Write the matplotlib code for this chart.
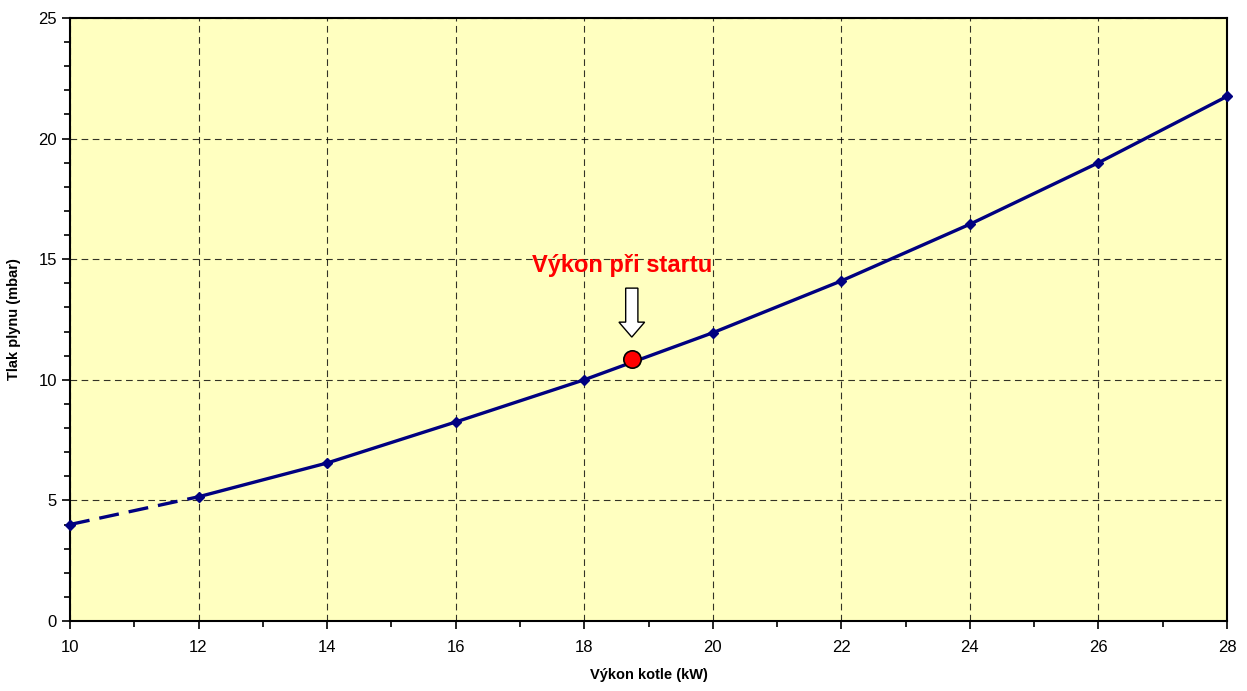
import matplotlib
matplotlib.use("Agg")
import matplotlib.pyplot as plt
from matplotlib.patches import FancyArrow
from matplotlib.ticker import MultipleLocator

plt.rcParams['font.family'] = ['Liberation Sans', 'DejaVu Sans']

power_kw = [10, 12, 14, 16, 18, 20, 22, 24, 26, 28]
pressure_mbar = [4.0, 5.15, 6.55, 8.25, 10.0, 11.95, 14.1, 16.45, 19.0, 21.75]
start_power = 18.74
start_pressure = 10.86
annotation_text = "Výkon při startu"

fig = plt.figure(figsize=(12.47, 6.91), dpi=100)
ax = fig.add_axes([0.0561, 0.1013, 0.9279, 0.8727])
ax.set_facecolor('#FFFFC0')

navy = '#000080'
# dashed extrapolated part
ax.plot(power_kw[:2], pressure_mbar[:2], color=navy, lw=2.4, ls=(0, (6, 3)), zorder=3)
ax.plot(power_kw[1:], pressure_mbar[1:], color=navy, lw=2.4, zorder=3)
ax.plot(power_kw, pressure_mbar, ls='none', marker='D', ms=5, color=navy, zorder=4, clip_on=False)

ax.plot([start_power], [start_pressure], marker='o', ms=12.5, mfc='#FF0000', mec='black', mew=1.2, zorder=5)

arr = FancyArrow(start_power, 13.8, 0, -2.03, width=0.19, head_width=0.4,
                 head_length=0.62, length_includes_head=True, fc='white', ec='black', lw=1.0, zorder=5)
ax.add_patch(arr)
ax.text(18.59, 14.72, annotation_text, color='#FF0000', fontsize=17, fontweight='bold',
        ha='center', va='center', zorder=6)

ax.set_xlim(10, 28)
ax.set_ylim(0, 25)
ax.xaxis.set_major_locator(MultipleLocator(2))
ax.xaxis.set_minor_locator(MultipleLocator(1))
ax.yaxis.set_major_locator(MultipleLocator(5))
ax.yaxis.set_minor_locator(MultipleLocator(1))
ax.grid(True, which='major', color='black', ls=(0, (6, 4)), lw=0.8, alpha=0.8)
ax.tick_params(which='both', direction='out', labelsize=12, width=1.2)
ax.tick_params(which='major', length=6)
ax.tick_params(which='minor', length=4)
ax.tick_params(axis='x', pad=8)
for s in ax.spines.values():
    s.set_linewidth(1.5)
    s.set_color('black')

ax.set_xlabel('Výkon kotle (kW)', fontsize=10.5, fontweight='bold', labelpad=9)
ax.set_ylabel('Tlak plynu (mbar)', fontsize=10.5, fontweight='bold', labelpad=12)

fig.savefig('out.png', dpi=100)
